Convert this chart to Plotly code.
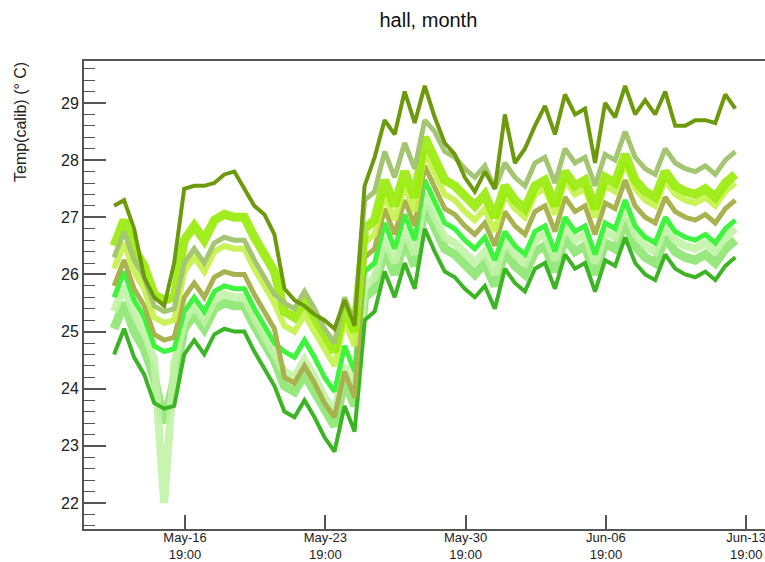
import pandas as pd
import plotly.graph_objects as go

# ---- data ----
# 12-hour sampling: 06:00 / 18:00 from May-13 06:00 to Jun-13 06:00
times = pd.date_range("2015-05-13 06:00", periods=63, freq="12h")

tick_times = ["2015-05-16 19:00", "2015-05-23 19:00", "2015-05-30 19:00",
              "2015-06-06 19:00", "2015-06-13 19:00"]
tick_labels = ["May-16<br>19:00", "May-23<br>19:00", "May-30<br>19:00",
               "Jun-06<br>19:00", "Jun-13<br>19:00"]

sensor_dark_olive = [27.2, 27.3, 26.8, 25.95, 25.6, 25.45, 26.2, 27.5, 27.55, 27.55,
                     27.6, 27.75, 27.8, 27.5, 27.2, 27.05, 26.7, 25.75, 25.55, 25.45,
                     25.3, 25.2, 25.05, 25.55, 25.1, 27.55, 28.05, 28.7, 28.45, 29.2,
                     28.65, 29.3, 28.75, 28.3, 28.1, 27.7, 27.45, 27.8, 27.5, 28.8,
                     27.95, 28.2, 28.6, 28.95, 28.45, 29.15, 28.8, 28.9, 27.95, 29.0,
                     28.75, 29.3, 28.8, 29.05, 28.8, 29.2, 28.6, 28.6, 28.7, 28.7,
                     28.65, 29.15, 28.9]

sensor_sage = [26.3, 26.75, 26.25, 25.95, 25.45, 25.35, 25.4, 26.2, 26.45, 26.2,
               26.55, 26.65, 26.6, 26.6, 26.25, 25.95, 25.65, 25.5, 25.4, 25.7,
               25.4, 25.05, 24.8, 25.6, 25.15, 27.3, 27.45, 28.15, 27.7, 28.3,
               27.85, 28.7, 28.5, 28.15, 28.05, 27.85, 27.7, 27.9, 27.5, 27.95,
               27.7, 27.55, 27.95, 28.05, 27.6, 28.2, 27.95, 28.05, 27.55, 28.1,
               28.0, 28.5, 28.05, 27.85, 27.75, 28.2, 27.95, 27.85, 27.8, 27.9,
               27.75, 28.0, 28.15]

sensor_chartreuse = [26.5, 26.95, 26.45, 26.15, 25.65, 25.55, 25.6, 26.6, 26.85, 26.6,
                     26.95, 27.05, 27.0, 27.0, 26.65, 26.35, 26.05, 25.35, 25.25, 25.55,
                     25.25, 24.9, 24.65, 25.45, 25.0, 26.8, 26.95, 27.65, 27.2, 27.8,
                     27.35, 28.4, 28.0, 27.65, 27.55, 27.35, 27.2, 27.4, 27.0, 27.55,
                     27.3, 27.15, 27.55, 27.65, 27.2, 27.8, 27.55, 27.65, 27.15, 27.7,
                     27.6, 28.1, 27.65, 27.45, 27.35, 27.8, 27.55, 27.45, 27.4, 27.5,
                     27.35, 27.6, 27.75]

sensor_yellowgreen = [26.1, 26.55, 26.05, 25.75, 25.25, 25.15, 25.2, 26.05, 26.3, 26.05,
                      26.4, 26.5, 26.45, 26.45, 26.1, 25.8, 25.5, 25.1, 25.0, 25.3,
                      25.0, 24.65, 24.4, 25.2, 24.75, 26.55, 26.7, 27.4, 26.95, 27.55,
                      27.1, 28.15, 27.75, 27.4, 27.3, 27.1, 26.95, 27.15, 26.75, 27.4,
                      27.15, 27.0, 27.4, 27.5, 27.05, 27.65, 27.4, 27.5, 27.0, 27.55,
                      27.45, 27.95, 27.5, 27.3, 27.2, 27.65, 27.4, 27.3, 27.25, 27.35,
                      27.2, 27.45, 27.6]

sensor_khaki = [25.8, 26.25, 25.75, 25.45, 24.95, 24.85, 24.9, 25.6, 25.85, 25.6,
                25.95, 26.05, 26.0, 26.0, 25.65, 25.35, 25.05, 24.2, 24.1, 24.4,
                24.1, 23.75, 23.5, 24.3, 23.85, 26.3, 26.45, 27.15, 26.7, 27.3,
                26.85, 27.9, 27.5, 27.15, 27.05, 26.85, 26.7, 26.9, 26.5, 27.1,
                26.85, 26.7, 27.1, 27.2, 26.75, 27.35, 27.1, 27.2, 26.7, 27.25,
                27.15, 27.65, 27.2, 27.0, 26.9, 27.35, 27.1, 27.0, 26.95, 27.05,
                26.9, 27.15, 27.3]

sensor_lime = [25.6, 26.05, 25.55, 25.25, 24.75, 24.65, 24.7, 25.35, 25.6, 25.35,
               25.7, 25.8, 25.75, 25.75, 25.4, 25.1, 24.8, 24.65, 24.55, 24.85,
               24.55, 24.2, 23.95, 24.75, 24.3, 26.05, 26.2, 26.9, 26.45, 27.05,
               26.6, 27.65, 27.25, 26.9, 26.8, 26.6, 26.45, 26.65, 26.25, 26.75,
               26.5, 26.35, 26.75, 26.85, 26.4, 27.0, 26.75, 26.85, 26.35, 26.9,
               26.8, 27.3, 26.85, 26.65, 26.55, 27.0, 26.75, 26.65, 26.6, 26.7,
               26.55, 26.8, 26.95]

sensor_pale = [25.35, 25.8, 25.3, 25.0, 24.5, 22.0, 24.45, 25.2, 25.45, 25.2,
               25.55, 25.65, 25.6, 25.6, 25.25, 24.95, 24.65, 24.3, 24.2, 24.5,
               24.2, 23.85, 23.6, 24.4, 23.95, 25.8, 25.95, 26.65, 26.2, 26.8,
               26.35, 27.4, 27.0, 26.65, 26.55, 26.35, 26.2, 26.4, 26.0, 26.6,
               26.35, 26.2, 26.6, 26.7, 26.25, 26.85, 26.6, 26.7, 26.2, 26.75,
               26.65, 27.15, 26.7, 26.5, 26.4, 26.85, 26.6, 26.5, 26.45, 26.55,
               26.4, 26.65, 26.8]

sensor_lightgreen = [25.05, 25.5, 25.0, 24.7, 24.2, 23.4, 24.15, 25.05, 25.3, 25.05,
                     25.4, 25.5, 25.45, 25.45, 25.1, 24.8, 24.5, 24.05, 23.95, 24.25,
                     23.95, 23.6, 23.35, 24.15, 23.7, 25.6, 25.75, 26.45, 26.0, 26.6,
                     26.15, 27.2, 26.8, 26.45, 26.35, 26.15, 26.0, 26.2, 25.8, 26.4,
                     26.15, 26.0, 26.4, 26.5, 26.05, 26.65, 26.4, 26.5, 26.0, 26.55,
                     26.45, 26.95, 26.5, 26.3, 26.2, 26.65, 26.4, 26.3, 26.25, 26.35,
                     26.2, 26.45, 26.6]

sensor_green = [24.6, 25.05, 24.55, 24.25, 23.75, 23.65, 23.7, 24.6, 24.85, 24.6,
                24.95, 25.05, 25.0, 25.0, 24.65, 24.35, 24.05, 23.6, 23.5, 23.8,
                23.5, 23.15, 22.9, 23.7, 23.25, 25.2, 25.35, 26.05, 25.6, 26.2,
                25.75, 26.8, 26.4, 26.05, 25.95, 25.75, 25.6, 25.8, 25.4, 26.1,
                25.85, 25.7, 26.1, 26.2, 25.75, 26.35, 26.1, 26.2, 25.7, 26.25,
                26.15, 26.65, 26.2, 26.0, 25.9, 26.35, 26.1, 26.0, 25.95, 26.05,
                25.9, 26.15, 26.3]

# ---- figure ----
fig = go.Figure()
traces = [
    (sensor_lightgreen, "#86e468", 9, 0.85),
    (sensor_pale, "#c2f3a6", 8, 0.9),
    (sensor_green, "#3cb524", 4, 1.0),
    (sensor_lime, "#3ef53e", 5, 1.0),
    (sensor_khaki, "#a8b24e", 5, 1.0),
    (sensor_yellowgreen, "#c4f248", 6, 0.9),
    (sensor_chartreuse, "#98ec08", 9, 0.9),
    (sensor_sage, "#a4c672", 5, 1.0),
    (sensor_dark_olive, "#6c9a0c", 4, 1.0),
]
for vals, col, w, op in traces:
    fig.add_trace(go.Scatter(x=times, y=vals, mode="lines",
                             line=dict(color=col, width=w), opacity=op,
                             showlegend=False, hoverinfo="skip"))

axis_col = "#555555"
fig.update_layout(
    width=765, height=562,
    margin=dict(l=84, r=0, t=61, b=33),
    paper_bgcolor="white", plot_bgcolor="white",
    font=dict(family="Liberation Sans, Arial, sans-serif", color="#222222"),
    title=dict(text="hall, month", x=0.56, xanchor="center", xref="container",
               y=0.965, yanchor="middle", yref="container",
               font=dict(size=20, color="#111111")),
    showlegend=False,
)
fig.update_xaxes(
    type="date",
    range=["2015-05-11 18:00", "2015-06-14 17:30"],
    tickvals=tick_times, ticktext=tick_labels,
    ticks="inside", ticklen=14, tickwidth=1.5, tickcolor=axis_col,
    showline=True, linecolor=axis_col, linewidth=2, mirror=True,
    showgrid=False, zeroline=False,
    tickfont=dict(size=13, color="#222222"),
    ticklabelstandoff=-5,
    ticklabeloverflow="allow",
    automargin=False,
)
fig.update_yaxes(
    range=[21.545, 29.735],
    dtick=1, tick0=22,
    ticks="inside", ticklen=22, tickwidth=1.5, tickcolor=axis_col,
    minor=dict(ticks="inside", ticklen=11, dtick=0.2, tickcolor=axis_col, tickwidth=1.2),
    showline=True, linecolor=axis_col, linewidth=2, mirror=False,
    showgrid=False, zeroline=False,
    tickfont=dict(size=16, color="#222222"),
    automargin=False,
)
fig.add_annotation(
    text="Temp(calib) (° C)", textangle=-90,
    xref="paper", yref="paper",
    x=(20 - 84) / 681, y=(529 - 122) / 468,
    xanchor="center", yanchor="middle", showarrow=False,
    font=dict(size=16, color="#222222"),
)

# remove the page's default body margin / scrollbars so the figure fills the window
fig.write_html(
    "out.html",
    config={"displayModeBar": False},
    post_script=("document.body.style.margin='0';"
                 "document.body.style.overflow='hidden';"
                 "document.documentElement.style.overflow='hidden';"),
)
